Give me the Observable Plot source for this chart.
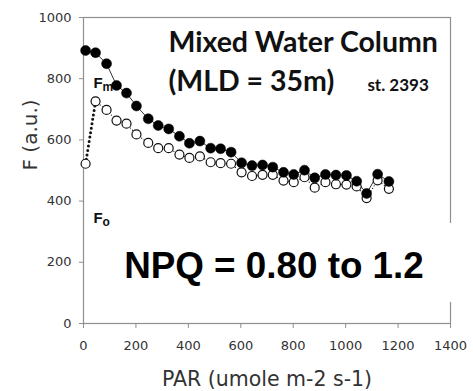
<!DOCTYPE html>
<html><head><meta charset="utf-8">
<script src="https://cdn.jsdelivr.net/npm/d3@7"></script>
<script src="https://cdn.jsdelivr.net/npm/@observablehq/plot@0.6"></script>
<style>body{margin:0;background:#fff} svg{display:block}</style>
</head><body><div id="chart"></div>
<script>
// PAR levels (umole m-2 s-1)
const par = [8,46,88,126,164,202,247,285,325,366,404,444,485,523,563,603,643,683,722,763,802,843,882,923,963,1003,1042,1080,1122,1165];
// Fm (filled circles)
const fm = [892,885,849,778,753,711,669,647,636,612,589,596,573,571,560,525,516,518,511,494,487,501,476,487,485,484,465,425,488,464];
// Fo / F' (open circles)
const fo = [522,726,698,663,653,618,590,573,573,552,541,546,527,524,522,494,482,486,486,467,462,478,444,462,455,454,448,410,468,440];
const xTicks = [0,200,400,600,800,1000,1200,1400];
const yTicks = [0,200,400,600,800,1000];
const xLabel = "PAR (umole m-2 s-1)";
const yLabel = "F (a.u.)";
const titleLines = [{text:"Mixed Water Column", x:324, y:886},{text:"(MLD = 35m)", x:324, y:761}];
const station = [{text:"st. 2393", x:1083, y:761}];
const fLabels = [{text:"F", sub:"m", x:38, y:768},{text:"F", sub:"o", x:38, y:327}];
const npq = [{text:"NPQ = 0.80 to 1.2", x:155, y:150}];
const npqBox = [{x1:130, x2:1440, y1:69, y2:327}];

const rows = par.map((p,i)=>({par:p, fm:fm[i], fo:fo[i]}));

const chart = Plot.plot({
  width:473, height:391,
  marginLeft:83, marginRight:23, marginTop:17, marginBottom:68,
  style:{fontFamily:"DejaVu Sans", fontSize:"13px", color:"#333", background:"#fff"},
  x:{domain:[0,1400], ticks:xTicks, tickSize:5, tickPadding:12, tickFormat:d3.format("d"), label:null},
  y:{domain:[0,1000], ticks:yTicks, tickSize:4, tickPadding:8, tickFormat:d3.format("d"), label:null},
  marks:[
    Plot.frame({stroke:"#8f8f8f", strokeWidth:1.2}),
    Plot.rect(npqBox, {x1:"x1", x2:"x2", y1:"y1", y2:"y2", fill:"white"}),
    Plot.text([xLabel], {frameAnchor:"bottom", lineAnchor:"bottom", dy:62, fontSize:20.5, fill:"#333"}),
    Plot.text([yLabel], {frameAnchor:"left", rotate:-90, dx:-53, fontSize:20, fill:"#333"}),
    Plot.text(fLabels, {x:"x", y:"y", text:"text", textAnchor:"start", lineAnchor:"bottom", fontFamily:"Liberation Sans", fontWeight:"bold", fontSize:15, fill:"#111"}),
    Plot.text(fLabels, {x:"x", y:"y", text:"sub", textAnchor:"start", lineAnchor:"bottom", dx:9, dy:3, fontFamily:"Liberation Sans", fontWeight:"bold", fontSize:12, fill:"#111"}),
    Plot.line(rows.slice(0,2), {x:"par", y:"fo", stroke:"#111", strokeWidth:3, strokeDasharray:"0,4.5", strokeLinecap:"round"}),
    Plot.line(rows.slice(1), {x:"par", y:"fo", stroke:"#222", strokeWidth:1.3, strokeDasharray:"0,3", strokeLinecap:"round"}),
    Plot.line(rows, {x:"par", y:"fm", stroke:"#333", strokeWidth:1}),
    Plot.dot(rows, {x:"par", y:"fo", r:4.5, fill:"white", stroke:"#111", strokeWidth:1.2}),
    Plot.dot(rows, {x:"par", y:"fm", r:5, fill:"#000", stroke:"#000", strokeWidth:0.5}),
    Plot.text(titleLines, {x:"x", y:"y", text:"text", textAnchor:"start", lineAnchor:"bottom", fontFamily:"Lato", fontWeight:"bold", fontSize:28.5, fill:"#111"}),
    Plot.text(station, {x:"x", y:"y", text:"text", textAnchor:"start", lineAnchor:"bottom", fontFamily:"Lato", fontWeight:"bold", fontSize:17, fill:"#111"}),
    Plot.text(npq, {x:"x", y:"y", text:"text", textAnchor:"start", lineAnchor:"bottom", fontFamily:"Liberation Sans", fontWeight:"bold", fontSize:36.8, fill:"#000"})
  ]
});
chart.querySelectorAll('[aria-label="x-axis tick"], [aria-label="y-axis tick"]').forEach(e=>e.setAttribute("stroke","#8f8f8f"));
document.getElementById("chart").appendChild(chart);
</script></body></html>
